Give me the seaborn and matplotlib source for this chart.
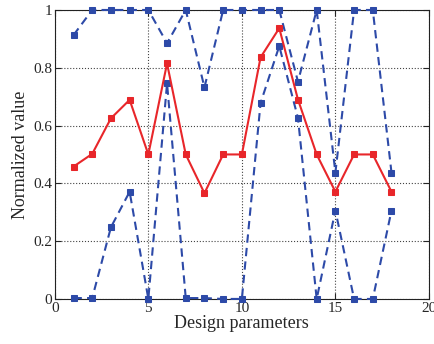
import matplotlib
matplotlib.use("Agg")
import matplotlib.pyplot as plt
import seaborn as sns
import pandas as pd

params = list(range(1, 19))
upper = [0.913, 1, 1, 1, 1, 0.885, 1, 0.732, 1, 1, 1, 1, 0.752, 1, 0.437, 1, 1, 0.437]
mean = [0.458, 0.502, 0.625, 0.689, 0.5, 0.815, 0.5, 0.366, 0.5, 0.5, 0.836, 0.937, 0.69, 0.5, 0.371, 0.5, 0.5, 0.371]
lower = [0.003, 0.003, 0.248, 0.371, 0.0, 0.746, 0.003, 0.003, 0.0, 0.0, 0.678, 0.875, 0.626, 0.0, 0.306, 0.0, 0.0, 0.306]
xticks = [0, 5, 10, 15, 20]
yticks = [0, 0.2, 0.4, 0.6, 0.8, 1]
yticklabels = ["0", "0.2", "0.4", "0.6", "0.8", "1"]

sns.set_style("ticks")
plt.rcParams["font.family"] = ["Liberation Serif", "DejaVu Serif"]

fig = plt.figure(figsize=(4.35, 3.44), dpi=100)
ax = fig.add_axes([0.126, 0.131, 0.86, 0.840])

blue = "#2d4aa8"
red = "#e8262a"

df = pd.DataFrame({"x": params, "upper": upper, "mean": mean, "lower": lower})
for col, c, ls, z in [("upper", blue, (0, (4, 2.5)), 3), ("lower", blue, (0, (4, 2.5)), 3),
                      ("mean", red, "-", 4)]:
    sns.lineplot(data=df, x="x", y=col, ax=ax, color=c, linestyle=ls, lw=1.5,
                 marker="s", markersize=5, markeredgecolor=c, zorder=z, clip_on=False)

ax.set_xlim(0, 20)
ax.set_ylim(0, 1)
ax.set_xticks(xticks)
ax.set_yticks(yticks)
ax.set_yticklabels(yticklabels)
ax.grid(True, linestyle=":", color="#444444", linewidth=0.8)
ax.tick_params(direction="in", top=True, right=True, labelsize=11, length=4, width=0.8, pad=2)
for s in ax.spines.values():
    s.set_linewidth(0.8)
    s.set_color("#222222")
ax.set_xlabel("Design parameters", fontsize=13, labelpad=0)
ax.set_ylabel("Normalized value", fontsize=13, labelpad=3)

fig.savefig("out.png", dpi=100)
